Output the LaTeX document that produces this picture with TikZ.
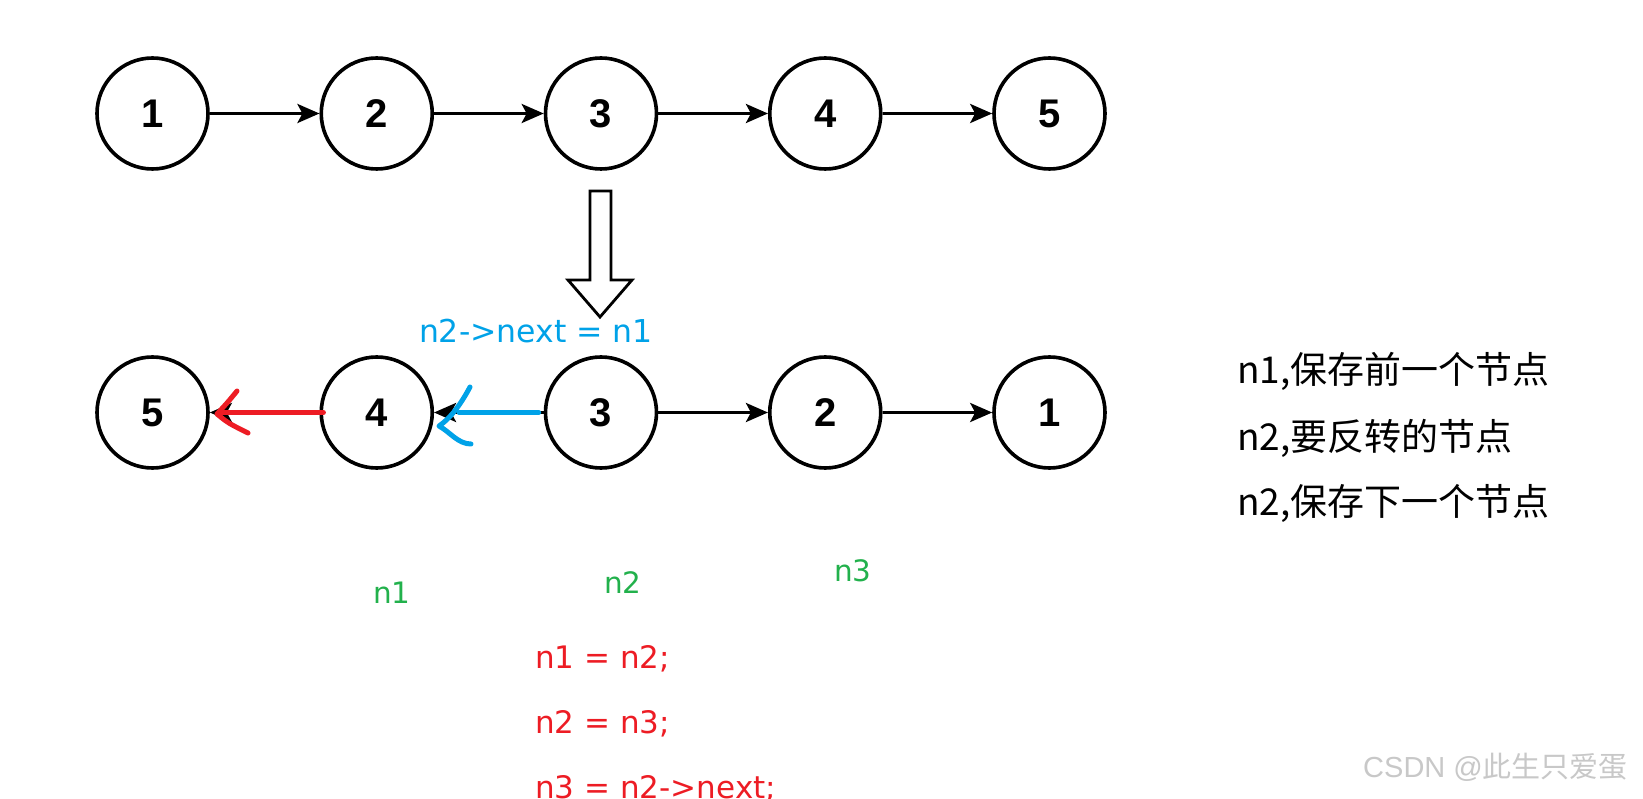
\documentclass[tikz,border=0pt]{standalone}
\usepackage{fontspec}
\setmainfont{Liberation Sans}
\newfontfamily\djv{DejaVu Sans}
\newfontfamily\cjk{Noto Sans CJK SC}
\newfontfamily\lsans{Liberation Sans}
\usetikzlibrary{arrows.meta}
\definecolor{pred}{RGB}{237,28,36}
\definecolor{pblue}{RGB}{0,162,232}
\definecolor{pgreen}{RGB}{34,177,76}
\definecolor{wmgray}{RGB}{200,200,200}
\begin{document}
\begin{tikzpicture}[x=1pt,y=-1pt,
  listnode/.style={circle,draw,line width=3.6pt,minimum size=111pt,inner sep=0pt,
    font=\fontsize{40}{48}\selectfont\bfseries},
  link/.style={line width=3.4pt,-{Stealth[length=22pt,width=19pt,inset=5pt]}},
  pen/.style={line width=5pt,line cap=round,line join=round},
  code/.style={anchor=base west,inner sep=0pt,text=pred,font=\djv\fontsize{31}{37}\selectfont},
  varlbl/.style={anchor=base west,inner sep=0pt,text=pgreen,font=\djv\fontsize{29.5}{35}\selectfont},
  note/.style={anchor=base west,inner sep=0pt,font=\cjk\fontsize{37}{44}\selectfont}
]
\useasboundingbox (0,0) rectangle (1643,799);
\fill[white] (0,0) rectangle (1643,799);

% top list
\node[listnode] (t1) at (152.5,113.5) {1};
\node[listnode] (t2) at (376.75,113.5) {2};
\node[listnode] (t3) at (601,113.5) {3};
\node[listnode] (t4) at (825.25,113.5) {4};
\node[listnode] (t5) at (1049.5,113.5) {5};
\draw[link] (t1) -- (t2);
\draw[link] (t2) -- (t3);
\draw[link] (t3) -- (t4);
\draw[link] (t4) -- (t5);

% hollow arrow
\draw[line width=2.8pt,line join=miter] (590,191) -- (611,191) -- (611,280) -- (632,280)
  -- (600,317) -- (568,280) -- (590,280) -- cycle;

\node[anchor=base,inner sep=0pt,text=pblue,font=\djv\fontsize{31.5}{37}\selectfont] (lbl) at (536,342) {n2->next = n1};

% bottom list
\node[listnode] (b5) at (152.5,412.5) {5};
\node[listnode] (b4) at (376.75,412.5) {4};
\node[listnode] (b3) at (601,412.5) {3};
\node[listnode] (b2) at (825.25,412.5) {2};
\node[listnode] (b1) at (1049.5,412.5) {1};
\draw[link] (b3) -- (b2);
\draw[link] (b2) -- (b1);
\draw[link] (b4) -- (b5);
\draw[link] (b3) -- (b4);

% hand-drawn overlays
\coordinate (rs) at ([xshift=4pt,yshift=0pt]b4.west);
\coordinate (re) at ([xshift=12pt]b5.east);
\draw[pen,pred] (rs) -- (re);
\draw[pen,pred] (237,391) .. controls (228,402) .. (217,414) .. controls (228,423) .. (248,433);
\coordinate (bs) at ([xshift=-5pt]b3.west);
\coordinate (be) at ([xshift=25pt]b4.east);
\draw[pen,pblue] (bs) -- (be);
\draw[pen,pblue] (470,387) .. controls (462,402) and (452,417) .. (439,426)
  .. controls (450,432) and (458,444) .. (471,444);

% variable labels
\node[varlbl] (v1) at (373,603) {n1};
\node[varlbl] (v2) at (604,593) {n2};
\node[varlbl] (v3) at (834,581) {n3};

% code
\node[code] (c1) at (535,668) {n1 = n2;};
\node[code] (c2) at (535,733) {n2 = n3;};
\node[code] (c3) at (535,798) {n3 = n2->next;};

% notes
\node[note] (m1) at (1237,383) {n1,保存前一个节点};
\node[note] (m2) at (1237,450) {n2,要反转的节点};
\node[note] (m3) at (1237,515) {n2,保存下一个节点};

% watermark
\node[anchor=base west,inner sep=0pt,text=wmgray] (wm) at (1363,777)
  {{\lsans\fontsize{29}{35}\selectfont CSDN @}{\cjk\fontsize{29}{35}\selectfont 此生只爱蛋}};
\end{tikzpicture}
\end{document}
